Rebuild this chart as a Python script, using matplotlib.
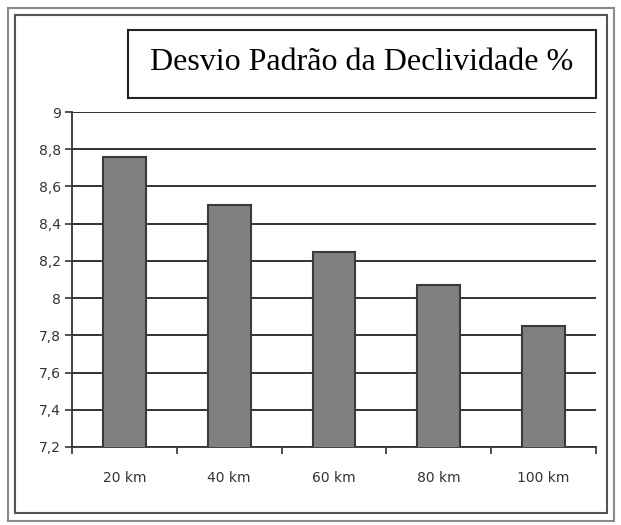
import matplotlib.pyplot as plt
from matplotlib.patches import Rectangle
from matplotlib.ticker import FixedLocator, FuncFormatter
import numpy as np

# dados
distancias = ["20 km", "40 km", "60 km", "80 km", "100 km"]
desvio = [8.76, 8.50, 8.25, 8.07, 7.85]
yticks = [7.2, 7.4, 7.6, 7.8, 8.0, 8.2, 8.4, 8.6, 8.8, 9.0]

fig = plt.figure(figsize=(6.21, 5.25), dpi=100)

# moldura dupla em volta do grafico
fig.patches.append(Rectangle((8 / 621, 1 - 521 / 525), 606 / 621, 513 / 525,
                             transform=fig.transFigure, fill=False,
                             edgecolor="#8a8a8a", lw=1.5))
fig.patches.append(Rectangle((15 / 621, 1 - 513 / 525), 592 / 621, 498 / 525,
                             transform=fig.transFigure, fill=False,
                             edgecolor="#555555", lw=1.5))

ax = fig.add_axes([72 / 621, 1 - 447 / 525, 524 / 621, 335 / 525])
x = np.arange(len(distancias))
ax.bar(x, desvio, width=0.41, color="#808080", edgecolor="#3a3a3a", lw=1.5,
       zorder=3)

ax.set_xlim(-0.5, len(distancias) - 0.5)
ax.set_ylim(7.2, 9.0)
ax.set_yticks(yticks)
ax.yaxis.set_major_formatter(FuncFormatter(lambda v, p: f"{v:g}".replace(".", ",")))
ax.set_xticks(x)
ax.set_xticklabels(distancias)
ax.xaxis.set_minor_locator(FixedLocator(np.arange(-0.5, len(distancias), 1.0)))
ax.tick_params(axis="x", which="major", length=0, pad=17, labelsize=10,
               labelcolor="#333333")
ax.tick_params(axis="x", which="minor", length=5, width=1.2, color="#333333")
ax.tick_params(axis="y", length=5, width=1.2, color="#333333", pad=3,
               labelsize=10, labelcolor="#333333")

ax.yaxis.grid(True, color="#222222", lw=1.3, zorder=0)
for s in ["top", "right"]:
    ax.spines[s].set_visible(False)
for s in ["left", "bottom"]:
    ax.spines[s].set_color("#333333")
    ax.spines[s].set_linewidth(1.3)

# titulo em caixa
fig.patches.append(Rectangle((128 / 621, 1 - 98 / 525), 468 / 621, 68 / 525,
                             transform=fig.transFigure, facecolor="white",
                             edgecolor="#222222", lw=1.5))
fig.text(362 / 621, 1 - 63 / 525, "Desvio Padrão da Declividade %",
         ha="center", va="center", family="Liberation Serif", fontsize=23)

plt.savefig("out.png", dpi=100)
